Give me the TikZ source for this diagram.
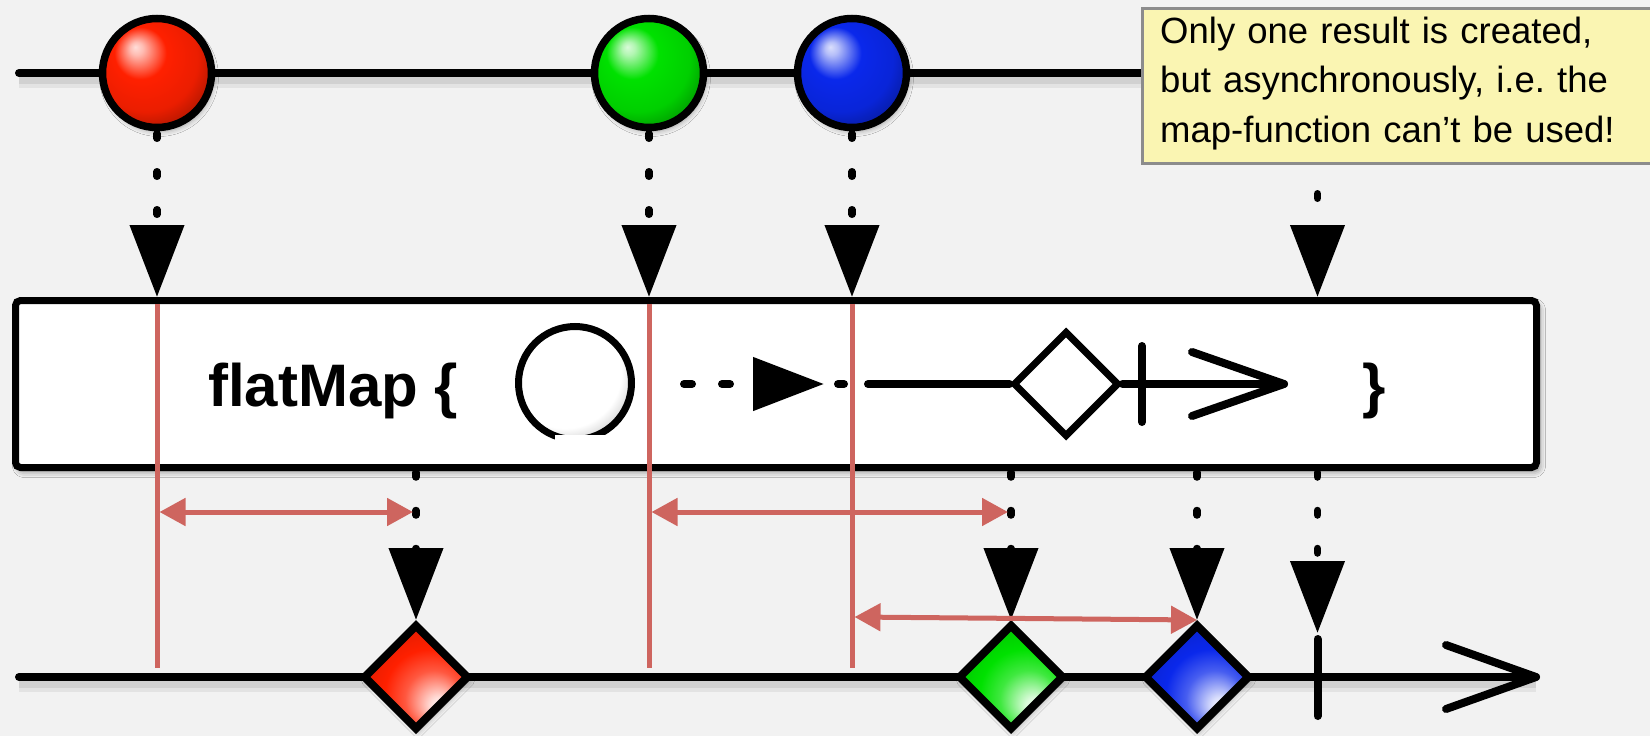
\documentclass[tikz,border=0pt]{standalone}
\usepackage{fontspec}
\newfontfamily\arialf{Liberation Sans}
\usetikzlibrary{arrows.meta,shapes.geometric,shadows.blur,calc}

\definecolor{bgc}{RGB}{242,242,242}
\definecolor{cred}{RGB}{255,32,0}
\definecolor{cgreen}{RGB}{0,225,0}
\definecolor{cblue}{RGB}{10,40,235}
\definecolor{mark}{RGB}{206,101,95}
\definecolor{notefill}{RGB}{250,245,178}
\definecolor{noteline}{RGB}{140,140,140}

% sphere shading (highlight top left) and gem shading (highlight bottom right)
\newcommand\declareshades[1]{%
  \pgfdeclareradialshading{sph#1}{\pgfpoint{-10bp}{12bp}}{%
    color(0bp)=(white!85!#1); color(3bp)=(white!70!#1); color(12bp)=(#1);
    color(24bp)=(#1!92!black); color(36bp)=(#1!55!black); color(50bp)=(#1!40!black)}%
  \pgfdeclareradialshading{dia#1}{\pgfpoint{12bp}{-15bp}}{%
    color(0bp)=(white); color(4bp)=(#1!15!white); color(14bp)=(#1!75!white);
    color(22bp)=(#1); color(34bp)=(#1!85!black); color(50bp)=(#1!55!black)}%
}
\declareshades{cred}
\declareshades{cgreen}
\declareshades{cblue}
\pgfdeclareradialshading{sphwhite}{\pgfpoint{-9bp}{10bp}}{%
  color(0bp)=(white); color(25bp)=(white); color(31bp)=(black!18);
  color(37bp)=(black!50); color(50bp)=(black!60)}

\tikzset{
  tline/.style={draw=black, line width=8pt, line cap=round, line join=round},
  lineshadow/.style={
    preaction={draw=black, opacity=0.06, line width=18pt, transform canvas={yshift=-6pt}},
    preaction={draw=black, opacity=0.08, line width=11pt, transform canvas={yshift=-5pt}}},
  ball/.style={circle, draw=black, line width=7.5pt, minimum size=109pt, inner sep=0pt,
    blur shadow={shadow xshift=2pt, shadow yshift=-4pt, shadow blur radius=5pt, shadow opacity=35}},
  gem/.style={diamond, aspect=1, draw=black, line width=8pt, minimum width=106pt,
    minimum height=106pt, inner sep=0pt,
    blur shadow={shadow xshift=2pt, shadow yshift=-4pt, shadow blur radius=5pt, shadow opacity=30}},
  dotflow/.style={draw=black, line width=7.5pt, line cap=round, dash pattern=on 4.5pt off 33.5pt,
    -{Triangle[length=72pt,width=53pt]}},
  markline/.style={draw=mark, line width=5pt},
  gap/.style={draw=mark, line width=5pt,
    {Triangle[length=26pt,width=27pt]}-{Triangle[length=26pt,width=27pt]}},
  legline/.style={draw=black, line width=8pt, line cap=round, line join=round},
  opbox/.style={draw=black, fill=white, line width=7pt, rounded corners=5pt,
    minimum width=1521pt, minimum height=167pt, inner sep=0pt,
    blur shadow={shadow xshift=3pt, shadow yshift=-4pt, shadow blur radius=6pt, shadow opacity=45}},
  opfont/.style={font=\arialf\bfseries\fontsize{60}{72}\selectfont},
  notebox/.style={draw=noteline, line width=3pt, fill=notefill, minimum width=530pt,
    minimum height=155pt, inner sep=0pt},
  notetext/.style={text width=480pt, inner sep=0pt, align=left,
    font=\arialf\fontsize{36.5}{49.5}\selectfont},
}

\begin{document}
\begin{tikzpicture}[x=1pt,y=-1pt]
\fill[bgc] (0,0) rectangle (1650,736);
\useasboundingbox (0,0) rectangle (1650,736);

% timelines
\coordinate (tin) at (19,73);
\coordinate (tend) at (1330,73);
\coordinate (bin) at (19,677);
\coordinate (btip) at (1536,677);
\coordinate (barmA) at (1446,645);
\coordinate (barmB) at (1446,709);
\draw[tline, lineshadow] (tin) -- (tend);
\draw[tline, lineshadow] (bin) -- (btip);
\draw[tline] (barmA) -- (btip) -- (barmB);

% completion tick on the output line
\coordinate (tktop) at (1317.5,633);
\coordinate (tkA) at (1317.5,639);
\coordinate (tkB) at (1317.5,716);
\draw[tline] (tkA) -- (tkB);

% operator box
\node[opbox] (box) at (776,384) {};
\node[opfont, anchor=base west, inner sep=0pt] (fm) at (208,406) {flatMap \{};
\node[opfont, anchor=base west, inner sep=0pt] (cb) at (1362,406) {\}};

% marble diagram of the function inside the braces
\node[circle, draw=black, line width=7pt, minimum size=113pt, inner sep=0pt, shading=sphwhite] (lc) at (575,383) {};
\fill[white] (555,435) rectangle (645,462);
\coordinate (ldash) at (684,384);
\coordinate (ltri) at (824,384);
\draw[legline, dash pattern=on 8pt off 30pt, -{Triangle[length=71pt,width=52pt]}]
  (ldash) -- (ltri);
\node[diamond, aspect=1, draw=black, line width=7pt, minimum width=106pt, minimum height=106pt,
  inner sep=0pt, shading=sphwhite] (ld) at (1066,384) {};
\draw[legline, dash pattern=on 6pt off 24pt on 500pt off 14pt, dash phase=530pt] (ltri) -- (ld.west);
\coordinate (larr) at (1284,384);
\coordinate (larmA) at (1192,352);
\coordinate (larmB) at (1192,416);
\coordinate (ltkA) at (1142,346);
\coordinate (ltkB) at (1142,422);
\draw[legline] (ld.east) -- (larr);
\draw[legline] (larmA) -- (larr) -- (larmB);
\draw[legline] (ltkA) -- (ltkB);

% output items
\node[gem, shading=diacred] (d1) at (416,677) {};
\node[gem, shading=diacgreen] (d2) at (1011,677) {};
\node[gem, shading=diacblue] (d3) at (1197,677) {};

% input items
\coordinate (q) at (1317.5,73);
\draw[dotflow, dash phase=31.25pt] (q) -- (q |- box.north);
\node[ball, shading=sphcred] (r1) at (157,73) {};
\node[ball, shading=sphcgreen] (g1) at (649,73) {};
\node[ball, shading=sphcblue] (b1) at (852,73) {};

\draw[dotflow, dash phase=35.5pt] (r1.south) -- (r1.south |- box.north);
\draw[dotflow, dash phase=35.5pt] (g1.south) -- (g1.south |- box.north);
\draw[dotflow, dash phase=35.5pt] (b1.south) -- (b1.south |- box.north);

\draw[dotflow, dash phase=36.5pt] (box.south -| d1) -- (d1.north);
\draw[dotflow, dash phase=36.5pt] (box.south -| d2) -- (d2.north);
\draw[dotflow, dash phase=36.5pt] (box.south -| d3) -- (d3.north);
\draw[dotflow, dash phase=36.5pt] (box.south -| tktop) -- (tktop);

% time markers and delays
\coordinate (mtop) at (0,304);
\coordinate (mbot) at (0,668);
\draw[markline] (r1 |- mtop) -- (r1 |- mbot);
\draw[markline] (g1 |- mtop) -- (g1 |- mbot);
\draw[markline] (b1 |- mtop) -- (b1 |- mbot);
\coordinate (gapy) at (0,512);
\draw[gap] ($(r1 |- gapy)+(2.5,0)$) -- ($(d1 |- gapy)+(-3,0)$);
\draw[gap] ($(g1 |- gapy)+(2.5,0)$) -- ($(d2 |- gapy)+(-3,0)$);
\draw[gap] ($(b1 |- d3.north)+(2.5,-3)$) -- (d3.north);

% note
\node[notebox, anchor=north west] (nt) at (1140.5,6.5) {};
\node[notetext, anchor=north west] (ntx) at (1160,13)
  {\rule{0pt}{30pt}Only one result is created,\\but asynchronously, i.e.\ the\\map-function can’t be used!};
\end{tikzpicture}
\end{document}
